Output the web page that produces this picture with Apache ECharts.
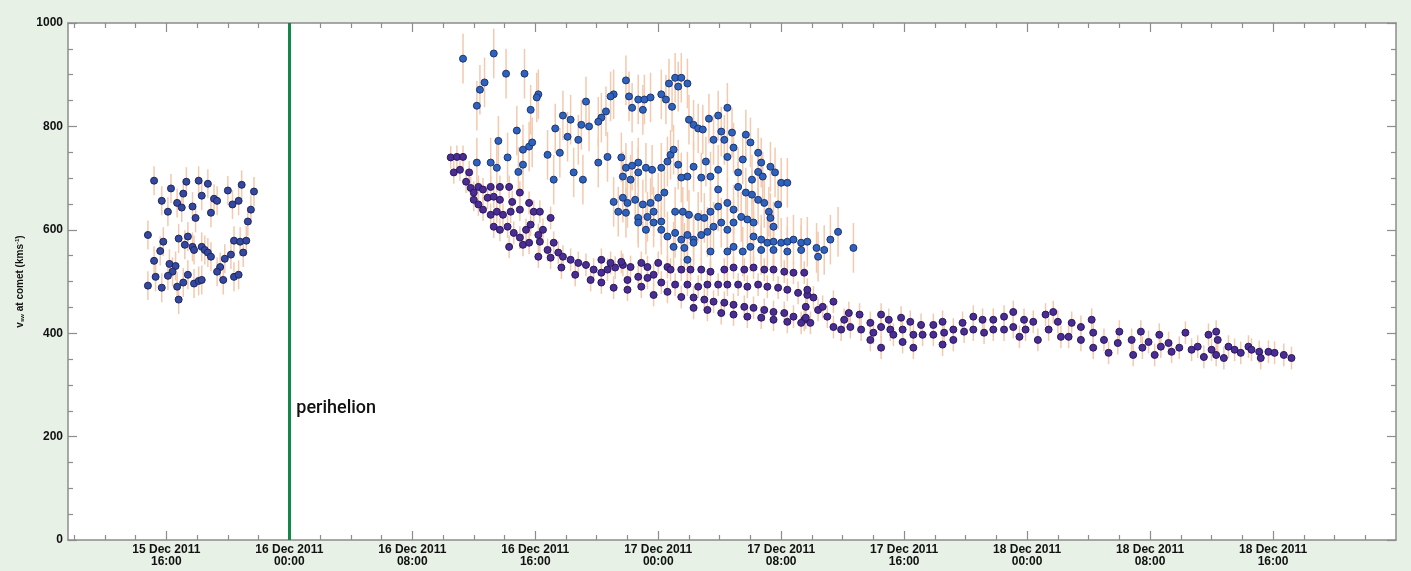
<!DOCTYPE html>
<html>
<head>
<meta charset="utf-8">
<script src="https://cdn.jsdelivr.net/npm/echarts@6/dist/echarts.min.js"></script>
<style>
  html, body { margin: 0; padding: 0; background: #e7f1e6; }
  #chart { width: 1411px; height: 571px; }
</style>
</head>
<body>
<div id="chart"></div>
<script>
  // hours since 15 Dec 2011 00:00, v_sw in km/s
  const xMin = 9.6;
  const xMax = 96;
  const majorTicks = [16, 24, 32, 40, 48, 56, 64, 72, 80, 88];
  const minorTicks = [10, 12, 14, 18, 20, 22, 26, 28, 30, 34, 36, 38, 42, 44, 46, 50, 52, 54, 58, 60, 62, 66, 68, 70, 74, 76, 78, 82, 84, 86, 90, 92, 94];
  const tickLabels = [
    '15 Dec 2011\n16:00', '16 Dec 2011\n00:00', '16 Dec 2011\n08:00', '16 Dec 2011\n16:00',
    '17 Dec 2011\n00:00', '17 Dec 2011\n08:00', '17 Dec 2011\n16:00', '18 Dec 2011\n00:00',
    '18 Dec 2011\n08:00', '18 Dec 2011\n16:00'
  ];
  const perihelion = 24;

  // before perihelion
  const preSamples = [
    [15.2, 695], [16.3, 680], [17.3, 693], [18.1, 695], [18.7, 689], [15.7, 656], [17.1, 670], [18.3, 666],
    [19.1, 660], [19.3, 656], [20.0, 676], [20.9, 687], [21.7, 674], [16.7, 652], [17.0, 643], [16.1, 635],
    [17.7, 645], [18.9, 633], [20.3, 649], [20.7, 656], [21.5, 639], [17.9, 623], [21.3, 616], [14.8, 590],
    [15.8, 577], [16.8, 583], [17.4, 587], [17.2, 571], [17.7, 567], [17.8, 561], [18.3, 567], [18.5, 561],
    [18.7, 556], [18.9, 548], [20.4, 579], [20.8, 577], [21.2, 579], [15.6, 559], [21.0, 556], [15.2, 540],
    [16.2, 534], [16.6, 530], [19.8, 544], [20.2, 552], [16.4, 519], [16.1, 511], [19.5, 528], [19.3, 519],
    [15.3, 509], [17.4, 513], [17.1, 498], [17.8, 496], [18.1, 501], [18.3, 503], [19.7, 503], [20.4, 509],
    [20.7, 513], [14.8, 492], [15.7, 488], [16.7, 490], [16.8, 465]
  ];

  // fast wind branch (blue)
  const fastSamples = [
    [35.3, 931], [37.3, 941], [38.1, 902], [39.3, 902], [36.7, 885], [36.4, 871], [36.2, 840], [40.2, 862],
    [40.1, 856], [39.7, 832], [41.3, 796], [38.8, 792], [37.6, 772], [39.2, 755], [39.6, 761], [39.8, 769],
    [40.8, 745], [41.6, 749], [38.2, 740], [38.9, 712], [39.2, 726], [37.1, 730], [37.5, 720], [36.2, 730],
    [41.2, 697],
    [45.9, 889], [45.1, 862], [44.9, 858], [43.3, 848], [44.6, 829], [44.3, 817], [44.1, 809], [42.3, 813],
    [43.0, 803], [43.5, 800], [41.8, 821], [42.1, 780], [42.8, 774], [46.1, 858], [46.3, 836], [47.0, 832],
    [46.7, 852], [47.1, 852], [47.5, 856], [48.2, 862], [48.5, 852], [48.9, 838], [48.7, 883], [49.1, 894],
    [49.5, 894], [49.3, 877], [49.9, 883], [50.0, 813], [50.3, 803], [50.6, 796], [50.9, 794], [51.3, 815],
    [51.9, 821], [52.5, 836], [51.6, 774], [52.3, 774], [52.1, 790], [52.8, 788], [52.9, 759], [52.5, 741],
    [53.7, 784], [54.0, 769], [54.5, 749], [53.5, 736], [54.7, 730], [55.3, 722], [55.6, 711], [56.0, 691],
    [56.4, 691], [54.5, 712], [54.8, 703], [54.1, 697], [48.8, 745], [49.0, 755], [48.6, 732], [49.3, 726],
    [50.3, 722], [51.1, 732], [51.9, 716], [51.4, 703], [50.8, 701], [49.9, 703], [49.5, 701], [51.9, 678],
    [53.2, 711], [53.2, 683], [53.7, 672], [54.1, 668], [54.5, 658], [54.9, 652], [55.2, 635], [55.3, 623],
    [55.8, 649], [55.5, 606], [44.1, 730], [44.7, 741], [45.6, 740], [45.9, 720], [46.3, 724], [46.7, 730],
    [47.2, 720], [47.6, 716], [48.2, 720], [46.7, 711], [46.2, 697], [45.7, 703], [42.5, 711], [43.1, 697],
    [45.1, 654], [45.7, 662], [46.0, 652], [46.5, 658], [47.0, 649], [47.5, 652], [48.0, 662], [48.4, 672],
    [45.4, 635], [45.9, 633], [46.7, 623], [47.3, 625], [47.7, 635], [46.7, 614], [47.2, 600], [47.7, 614],
    [48.2, 616], [49.1, 635], [49.6, 635], [50.0, 629], [50.6, 625], [51.0, 623], [51.4, 635], [51.9, 645],
    [52.5, 652], [52.9, 639], [53.4, 625], [53.8, 620], [54.2, 614], [48.2, 600], [48.6, 587], [49.1, 594],
    [49.5, 581], [49.9, 590], [50.3, 581], [50.8, 590], [51.2, 596], [51.6, 606], [52.1, 614], [52.5, 600],
    [52.9, 614], [49.0, 567], [49.7, 565], [50.3, 575], [49.9, 542], [51.4, 558], [52.5, 558], [52.9, 567],
    [53.5, 558], [54.0, 567], [54.2, 587], [54.7, 581], [55.1, 575], [55.5, 577], [56.0, 575], [56.4, 577],
    [56.8, 581], [57.3, 575], [57.7, 577], [54.7, 561], [55.5, 561], [56.4, 558], [57.3, 561],
    [58.3, 565], [58.8, 561], [58.4, 548], [59.2, 581], [59.7, 596], [60.7, 565]
  ];

  // slow wind branch (purple)
  const slowSamples = [
    [34.5, 740], [34.9, 741], [35.3, 741], [34.7, 711], [35.1, 716], [35.7, 711], [35.5, 693], [35.8, 681],
    [36.0, 672], [36.3, 683], [36.6, 678], [37.1, 683], [37.7, 683], [38.3, 683], [39.0, 672], [36.0, 658],
    [36.3, 649], [36.9, 662], [37.3, 664], [37.7, 658], [38.5, 654], [36.6, 639], [37.1, 629], [37.5, 635],
    [37.9, 629], [38.4, 635], [39.0, 639], [39.6, 652], [39.9, 635], [40.3, 635], [41.0, 623], [37.3, 606],
    [37.7, 600], [38.2, 606], [38.6, 594], [39.0, 585], [39.4, 600], [39.7, 610], [40.2, 590], [40.5, 600],
    [38.3, 567], [39.2, 571], [39.6, 575], [40.3, 577], [40.8, 561], [41.2, 575], [40.2, 548], [41.0, 546],
    [41.5, 556],
    [41.8, 548], [42.3, 542], [42.8, 536], [43.3, 532], [43.8, 523], [44.3, 517], [44.7, 523], [45.2, 527],
    [45.7, 532], [46.2, 528], [46.9, 536], [47.3, 528], [48.0, 536], [48.6, 528], [44.3, 542], [44.9, 536],
    [45.6, 538], [46.0, 503], [46.7, 509], [47.3, 507], [47.7, 513], [48.2, 498], [46.0, 484], [46.9, 490],
    [44.3, 498], [45.1, 488], [47.7, 474], [48.6, 480], [43.6, 503], [42.6, 513], [41.7, 527],
    [48.8, 523], [49.5, 523], [50.1, 523], [50.8, 523], [51.4, 519], [52.3, 523], [52.9, 527], [53.6, 523],
    [54.2, 527], [54.9, 523], [55.5, 523], [56.2, 519], [56.8, 517], [57.5, 517], [49.1, 494], [49.9, 494],
    [50.6, 490], [51.2, 494], [51.9, 494], [52.5, 494], [53.2, 494], [53.8, 490], [54.5, 494], [55.1, 490],
    [55.8, 488], [56.4, 484], [57.1, 478], [57.7, 474], [49.5, 470], [50.3, 469], [51.0, 465], [51.6, 461],
    [52.3, 459], [52.9, 455], [53.6, 451], [54.2, 449], [54.9, 445], [55.5, 441], [56.2, 439], [56.8, 432],
    [57.5, 426], [57.9, 420], [50.3, 449], [51.2, 445], [52.1, 439], [52.9, 436], [53.8, 432], [54.7, 430],
    [55.5, 426], [56.4, 422], [57.3, 420],
    [57.7, 484], [58.1, 469], [57.6, 451], [57.6, 430], [58.4, 445], [58.7, 451], [59.4, 461], [59.0, 432],
    [59.4, 412], [59.9, 407], [60.1, 426], [60.4, 439], [60.5, 412], [61.1, 436], [61.2, 407], [61.8, 420],
    [61.8, 387], [62.0, 401], [62.5, 436], [62.5, 412], [62.5, 372], [63.0, 426], [63.1, 407], [63.3, 397],
    [63.8, 430], [63.9, 407], [63.9, 383], [64.4, 422], [64.6, 397], [64.6, 372], [65.1, 416], [65.2, 397],
    [65.9, 416], [65.9, 397], [66.5, 422], [66.5, 378], [66.6, 401], [67.2, 407], [67.2, 387], [67.8, 420],
    [67.9, 403], [68.5, 432], [68.5, 407], [69.1, 426], [69.2, 401], [69.8, 426], [69.8, 407], [70.5, 432],
    [70.5, 407], [71.1, 441], [71.1, 412], [71.5, 393], [71.8, 426], [71.9, 407], [72.4, 422], [72.7, 387],
    [73.2, 436], [73.7, 441], [73.4, 407], [74.0, 422], [74.2, 393], [74.9, 420], [74.7, 393], [75.5, 412],
    [75.5, 387], [76.2, 426], [76.3, 401], [76.3, 372], [77.0, 387], [77.3, 362], [78.0, 403], [77.9, 381],
    [78.8, 387], [78.9, 358], [79.4, 403], [79.5, 372],
    [79.9, 383], [80.3, 358], [80.6, 397], [80.7, 374], [81.2, 381], [81.4, 364], [81.9, 372], [82.3, 401],
    [82.7, 368], [83.1, 374], [83.5, 354], [83.8, 397], [84.0, 368], [84.3, 403], [84.4, 387], [84.3, 358],
    [84.8, 352], [85.1, 374], [85.5, 368], [85.9, 362], [86.4, 374], [86.6, 368], [87.1, 364], [87.2, 352],
    [87.7, 364], [88.1, 362], [88.7, 358], [89.2, 352]
  ];

  // typical half-length of the error bars, km/s
  const preErr = 28;
  const fastErr = 48;
  const slowErr = 22;

  const chart = echarts.init(document.getElementById('chart'));

  const errData = []
    .concat(preSamples.map(p => [p[0], p[1], preErr]))
    .concat(fastSamples.map(p => [p[0], p[1], fastErr]))
    .concat(slowSamples.map(p => [p[0], p[1], slowErr]));

  const axisColor = '#8c8c8c';
  const labelFont = {
    color: '#111',
    fontFamily: 'Liberation Sans',
    fontWeight: 'bold',
    fontSize: 12
  };

  function xAxisDef (position, ticks, len, withLabels, withLine) {
    return {
      type: 'value',
      min: xMin,
      max: xMax,
      position: position,
      axisLine: { show: withLine, onZero: false, lineStyle: { color: axisColor, width: 1.5 } },
      axisTick: { show: true, inside: true, customValues: ticks, length: len, lineStyle: { color: axisColor, width: 1.2 } },
      axisLabel: withLabels ? Object.assign({
        customValues: majorTicks,
        margin: 4,
        lineHeight: 12,
        formatter: function (v) {
          return tickLabels[majorTicks.indexOf(v)];
        }
      }, labelFont) : { show: false },
      splitLine: { show: false }
    };
  }

  function yAxisDef (position, withLabels) {
    const def = {
      type: 'value',
      min: 0,
      max: 1000,
      interval: 200,
      position: position,
      axisLine: { show: true, onZero: false, lineStyle: { color: axisColor, width: 1.5 } },
      axisTick: { show: true, inside: true, length: 9, lineStyle: { color: axisColor, width: 1.2 } },
      minorTick: { show: true, splitNumber: 4, length: 5, lineStyle: { color: axisColor, width: 1.2 } },
      axisLabel: withLabels ? Object.assign({ margin: 5, formatter: v => String(v) }, labelFont) : { show: false },
      splitLine: { show: false }
    };
    if (withLabels) {
      def.name = '{v|v}{sub|sw}{t| at comet (kms}{sup|-1}{t|)}';
      def.nameLocation = 'middle';
      def.nameGap = 38;
      def.nameRotate = 90;
      def.nameTextStyle = {
        rich: {
          v: { fontFamily: 'Liberation Sans', fontWeight: 'bold', fontSize: 10, color: '#111' },
          t: { fontFamily: 'Liberation Sans', fontWeight: 'bold', fontSize: 10, color: '#111' },
          sub: { fontFamily: 'Liberation Sans', fontWeight: 'bold', fontSize: 6, color: '#111', padding: [5, 0, 0, 0] },
          sup: { fontFamily: 'Liberation Sans', fontWeight: 'bold', fontSize: 6, color: '#111', padding: [0, 0, 6, 0] }
        }
      };
    }
    return def;
  }

  const dot = function (fill, edge) {
    return { color: fill, borderColor: edge, borderWidth: 1, opacity: 1 };
  };

  chart.setOption({
    animation: false,
    backgroundColor: '#e7f1e6',
    grid: {
      left: 68,
      right: 15,
      top: 23,
      bottom: 31,
      show: true,
      backgroundColor: '#ffffff',
      borderWidth: 0
    },
    xAxis: [
      xAxisDef('bottom', majorTicks, 9, true, true),
      xAxisDef('bottom', minorTicks, 5, false, false),
      xAxisDef('top', majorTicks, 9, false, true),
      xAxisDef('top', minorTicks, 5, false, false)
    ],
    yAxis: [
      yAxisDef('left', true),
      yAxisDef('right', false)
    ],
    series: [
      {
        type: 'custom',
        xAxisIndex: 0,
        yAxisIndex: 0,
        data: errData,
        encode: { x: 0, y: 1 },
        z: 1,
        renderItem: function (params, api) {
          const x = api.value(0);
          const y = api.value(1);
          const e = api.value(2);
          const a = api.coord([x, y - e]);
          const b = api.coord([x, y + e]);
          return {
            type: 'line',
            shape: { x1: a[0], y1: a[1], x2: b[0], y2: b[1] },
            style: { stroke: '#f4c9ad', lineWidth: 1.5 }
          };
        }
      },
      {
        type: 'scatter',
        name: 'before perihelion',
        data: preSamples,
        symbolSize: 7,
        itemStyle: dot('#34489f', '#1d2660'),
        z: 3,
        markLine: {
          silent: true,
          symbol: 'none',
          label: { show: false },
          lineStyle: { color: '#13874a', width: 3, type: 'solid' },
          data: [{ xAxis: perihelion }]
        },
        markPoint: {
          symbol: 'circle',
          symbolSize: 0,
          data: [{ coord: [perihelion, 255], value: 'perihelion' }],
          label: {
            show: true,
            position: 'right',
            distance: 7,
            formatter: 'perihelion',
            color: '#111',
            fontFamily: 'Roboto',
            fontWeight: 500,
            fontSize: 18
          }
        }
      },
      {
        type: 'scatter',
        name: 'fast',
        data: fastSamples,
        symbolSize: 7,
        itemStyle: dot('#2f62bd', '#1b3674'),
        z: 3
      },
      {
        type: 'scatter',
        name: 'slow',
        data: slowSamples,
        symbolSize: 7,
        itemStyle: dot('#4a2c95', '#2a185c'),
        z: 4
      }
    ]
  });
</script>
</body>
</html>
